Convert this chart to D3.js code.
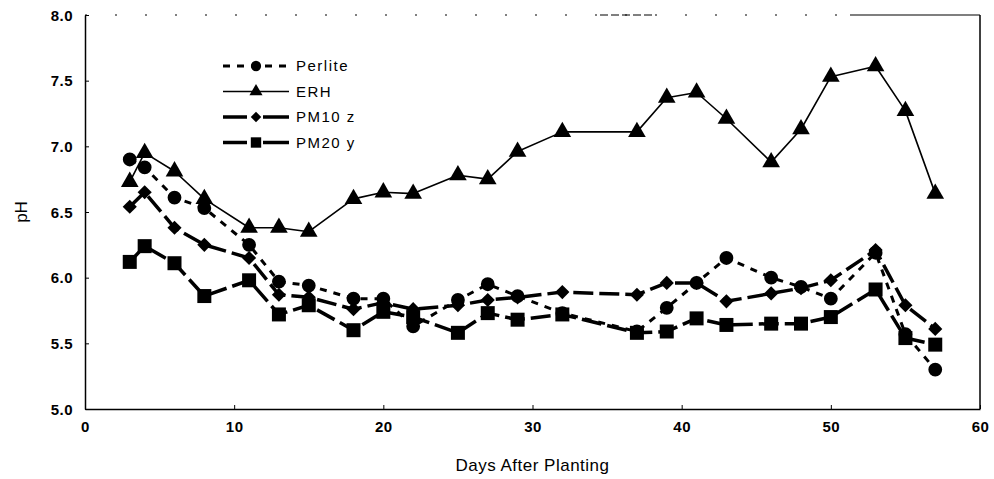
<!DOCTYPE html>
<html>
<head>
<meta charset="utf-8">
<script src="https://cdn.jsdelivr.net/npm/d3@7"></script>
<style>
  html, body { margin: 0; padding: 0; background: #fff; }
  svg { display: block; }
  text { font-family: "Liberation Sans", Arial, sans-serif; fill: #000; }
</style>
</head>
<body>
<svg id="chart" width="994" height="479"></svg>
<script>
// ---------------- data ----------------
const days = [3, 4, 6, 8, 11, 13, 15, 18, 20, 22, 25, 27, 29, 32, 37, 39, 41, 43, 46, 48, 50, 53, 55, 57];
const perlite = [6.90, 6.84, 6.61, 6.53, 6.25, 5.97, 5.94, 5.84, 5.84, 5.63, 5.83, 5.95, 5.86, 5.73, 5.59, 5.77, 5.96, 6.15, 6.00, 5.93, 5.84, 6.19, 5.57, 5.30];
const erh     = [6.73, 6.95, 6.81, 6.60, 6.38, 6.38, 6.35, 6.60, 6.65, 6.64, 6.78, 6.75, 6.96, 7.11, 7.11, 7.37, 7.41, 7.21, 6.88, 7.13, 7.53, 7.61, 7.27, 6.64];
const pm10z   = [6.54, 6.65, 6.38, 6.25, 6.15, 5.87, 5.85, 5.76, 5.81, 5.76, 5.79, 5.83, 5.85, 5.89, 5.87, 5.96, 5.96, 5.82, 5.88, 5.92, 5.98, 6.21, 5.79, 5.61];
const pm20y   = [6.12, 6.24, 6.11, 5.86, 5.98, 5.72, 5.79, 5.60, 5.74, 5.70, 5.58, 5.73, 5.68, 5.72, 5.58, 5.59, 5.69, 5.64, 5.65, 5.65, 5.70, 5.91, 5.54, 5.49];
const seriesNames = ["Perlite", "ERH", "PM10 z", "PM20 y"];
const xTicks = [0, 10, 20, 30, 40, 50, 60];
const yTicks = [5.0, 5.5, 6.0, 6.5, 7.0, 7.5, 8.0];
const xTitle = "Days After Planting";
const yTitle = "pH";

// ---------------- styles ----------------
const styles = [
  { values: perlite, dash: "7,7",  width: 3,   symbol: d3.symbolCircle,   size: 150, rotate: 0 },
  { values: erh,     dash: null,   width: 1.6, symbol: d3.symbolTriangle, size: 135, rotate: 0 },
  { values: pm10z,   dash: "20,6", width: 3.5, symbol: d3.symbolSquare,   size: 100, rotate: 45 },
  { values: pm20y,   dash: "20,6", width: 3.5, symbol: d3.symbolSquare,   size: 196, rotate: 0 }
];

const svg = d3.select("#chart");
const x = d3.scaleLinear().domain([0, 60]).range([85, 980]);
const y = d3.scaleLinear().domain([5, 8]).range([409, 15]);

// frame
const g = svg.append("g");
// top border (partly faded in the scan)
g.append("line").attr("x1", x(0)).attr("x2", 850).attr("y1", y(8)).attr("y2", y(8))
  .attr("stroke", "#000").attr("stroke-width", 1).attr("stroke-dasharray", "2,28");
g.append("line").attr("x1", 600).attr("x2", 655).attr("y1", y(8)).attr("y2", y(8))
  .attr("stroke", "#000").attr("stroke-width", 1).attr("stroke-dasharray", "8,3");
g.append("line").attr("x1", 850).attr("x2", x(60)).attr("y1", y(8)).attr("y2", y(8))
  .attr("stroke", "#000").attr("stroke-width", 1.2);
// right border
g.append("line").attr("x1", x(60)).attr("x2", x(60)).attr("y1", y(8)).attr("y2", y(5))
  .attr("stroke", "#000").attr("stroke-width", 1.5);

// axes
const xAxis = d3.axisBottom(x).tickValues(xTicks).tickFormat(d3.format("d")).tickSizeInner(-4).tickSizeOuter(0).tickPadding(12);
const yAxis = d3.axisLeft(y).tickValues(yTicks).tickFormat(d3.format(".1f")).tickSizeInner(-4).tickSizeOuter(0).tickPadding(12);

const gx = svg.append("g").attr("transform", `translate(0,${y(5)})`).call(xAxis);
const gy = svg.append("g").attr("transform", `translate(${x(0)},0)`).call(yAxis);
[gx, gy].forEach(a => {
  a.select(".domain").attr("stroke", "#000").attr("stroke-width", 1.5);
  a.selectAll(".tick line").attr("stroke", "#000").attr("stroke-width", 1);
  a.selectAll("text").attr("font-size", 15).attr("font-weight", "bold")
    .attr("font-family", "Liberation Sans, Arial, sans-serif").attr("fill", "#000")
    .style("letter-spacing", "0.5px");
});
gy.selectAll("text").attr("dy", "0.35em");

// axis titles
svg.append("text").attr("x", x(30)).attr("y", 471).attr("text-anchor", "middle")
  .attr("font-size", 17).style("letter-spacing", "0.5px").text(xTitle);
svg.append("text").attr("transform", `translate(27,${y(6.5)}) rotate(-90)`)
  .attr("text-anchor", "middle").attr("font-size", 17).text(yTitle);

// lines
const line = d3.line().x((d, i) => x(days[i])).y(d => y(d));
styles.forEach(s => {
  svg.append("path").datum(s.values).attr("d", line)
    .attr("fill", "none").attr("stroke", "#000").attr("stroke-width", s.width)
    .attr("stroke-dasharray", s.dash).attr("stroke-linejoin", "round");
});
// markers
styles.forEach(s => {
  const sym = d3.symbol().type(s.symbol).size(s.size);
  svg.append("g").selectAll("path").data(s.values).join("path")
    .attr("d", sym)
    .attr("transform", (d, i) => `translate(${x(days[i])},${y(d)}) rotate(${s.rotate})`)
    .attr("fill", "#000");
});

// legend
const legend = svg.append("g");
const legY0 = 66, legStep = 25.5, lx1 = 223, lx2 = 289, lmid = 256;
styles.forEach((s, i) => {
  const yy = legY0 + i * legStep;
  legend.append("line").attr("x1", lx1).attr("x2", lx2).attr("y1", yy).attr("y2", yy)
    .attr("stroke", "#000").attr("stroke-width", s.width)
    .attr("stroke-dasharray", s.dash ? (i === 0 ? "7,7" : "24,16,26") : null);
  legend.append("path").attr("d", d3.symbol().type(s.symbol).size(s.size * 0.55))
    .attr("transform", `translate(${lmid},${yy}) rotate(${s.rotate})`).attr("fill", "#000");
  legend.append("text").attr("x", 296).attr("y", yy).attr("dy", "0.36em")
    .attr("font-size", 15).style("letter-spacing", "1.5px").text(seriesNames[i]);
});
</script>
</body>
</html>
